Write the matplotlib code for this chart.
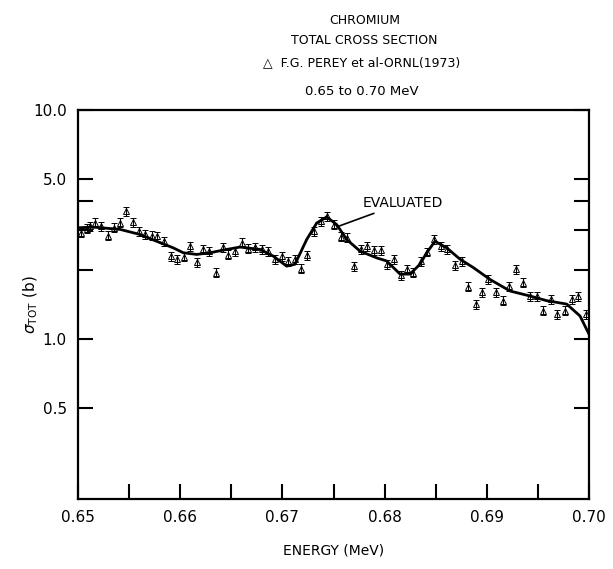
import matplotlib.pyplot as plt
import numpy as np
from matplotlib.ticker import NullLocator, FixedLocator

# measured points (Perey et al, ORNL 1973)
energy_pts = [0.65026, 0.65085, 0.65117, 0.65166, 0.65225, 0.65291, 0.65352, 0.65411,
              0.65470, 0.65541, 0.65600, 0.65659, 0.65721, 0.65776, 0.65841, 0.65910,
              0.65972, 0.66037, 0.66096, 0.66161, 0.66226, 0.66285, 0.66350, 0.66416,
              0.66471, 0.66536, 0.66602, 0.66666, 0.66732, 0.66797, 0.66862, 0.66928,
              0.66993, 0.67058, 0.67123, 0.67179, 0.67244, 0.67309, 0.67375, 0.67433,
              0.67508, 0.67570, 0.67635, 0.67701, 0.67766, 0.67831, 0.67896, 0.67962,
              0.68026, 0.68092, 0.68158, 0.68222, 0.68281, 0.68353, 0.68418, 0.68483,
              0.68549, 0.68614, 0.68689, 0.68754, 0.68819, 0.68891, 0.68950, 0.69015,
              0.69087, 0.69156, 0.69220, 0.69286, 0.69357, 0.69423, 0.69488, 0.69553,
              0.69625, 0.69690, 0.69765, 0.69831, 0.69895, 0.69968]
sigma_pts = [2.91, 3.03, 3.11, 3.22, 3.11, 2.83, 3.06, 3.22,
             3.61, 3.24, 2.96, 2.86, 2.83, 2.81, 2.68, 2.30,
             2.23, 2.29, 2.54, 2.17, 2.46, 2.42, 1.95, 2.52,
             2.33, 2.42, 2.63, 2.48, 2.51, 2.46, 2.42, 2.23,
             2.30, 2.19, 2.23, 2.03, 2.32, 2.96, 3.27, 3.44,
             3.16, 2.80, 2.77, 2.08, 2.46, 2.54, 2.44, 2.44,
             2.12, 2.23, 1.90, 2.02, 1.95, 2.19, 2.40, 2.72,
             2.54, 2.46, 2.10, 2.19, 1.69, 1.42, 1.60, 1.82,
             1.60, 1.47, 1.70, 2.02, 1.76, 1.54, 1.54, 1.33,
             1.49, 1.28, 1.33, 1.49, 1.54, 1.28]
rel_err = 0.045

# evaluated curve
energy_eval = [0.65, 0.65150, 0.65411, 0.65607, 0.65770, 0.65932, 0.66030, 0.66161,
               0.66292, 0.66455, 0.66585, 0.66781, 0.66911, 0.67042, 0.67123, 0.67238,
               0.67336, 0.67433, 0.67531, 0.67629, 0.67759, 0.67923, 0.68021, 0.68151,
               0.68249, 0.68346, 0.68412, 0.68493, 0.68608, 0.68738, 0.68868, 0.69031,
               0.69227, 0.69423, 0.69586, 0.69782, 0.69912, 0.70]
sigma_eval = [3.06, 3.08, 3.01, 2.86, 2.67, 2.50, 2.38, 2.34,
              2.38, 2.46, 2.52, 2.46, 2.30, 2.08, 2.12, 2.72,
              3.21, 3.41, 3.16, 2.72, 2.42, 2.26, 2.19, 1.92,
              1.92, 2.12, 2.38, 2.67, 2.50, 2.23, 2.05, 1.82,
              1.62, 1.54, 1.47, 1.42, 1.26, 1.05]

yticks = [0.5, 1.0, 2.0, 3.0, 4.0, 5.0, 10.0]
ytick_labels = ['0.5', '1.0', '', '', '', '5.0', '10.0']
xticks = [0.65, 0.655, 0.66, 0.665, 0.67, 0.675, 0.68, 0.685, 0.69, 0.695, 0.70]
xtick_labels = ['0.65', '', '0.66', '', '0.67', '', '0.68', '', '0.69', '', '0.70']

fig = plt.figure(figsize=(6.13, 5.69), dpi=100)
ax = fig.add_axes([78 / 613, 1 - 499 / 569, 511 / 613, 389 / 569])

ax.plot(energy_eval, sigma_eval, color='black', lw=2, zorder=3)
ax.errorbar(energy_pts, sigma_pts, yerr=np.array(sigma_pts) * rel_err, fmt='^',
            mfc='none', mec='black', ms=4, mew=0.7, ecolor='black',
            elinewidth=0.8, capsize=2, capthick=0.8, zorder=2)

ax.set_yscale('log')
ax.set_xlim(0.65, 0.70)
ax.set_ylim(0.2, 10)
ax.yaxis.set_major_locator(FixedLocator(yticks))
ax.yaxis.set_minor_locator(NullLocator())
ax.set_yticklabels(ytick_labels)
ax.set_xticks(xticks)
ax.set_xticklabels(xtick_labels)
ax.tick_params(direction='in', length=11, width=1.5, labelsize=11, pad=8,
               right=True, top=False)
for s in ax.spines.values():
    s.set_linewidth(1.6)

ax.set_xlabel('ENERGY (MeV)', fontsize=10)
ax.xaxis.set_label_coords(0.5, -0.115)
ax.set_ylabel(r'$\sigma_{\rm TOT}$ (b)', fontsize=11)
ax.yaxis.set_label_coords(-0.075, 0.5)

ax.annotate('EVALUATED', xy=(0.67544, 3.10), xytext=(0.67789, 3.94),
            fontsize=10, ha='left', va='center',
            arrowprops=dict(arrowstyle='-', color='black', lw=1.2, shrinkA=2, shrinkB=0))

fig.text(0.595, 1 - 20 / 569, 'CHROMIUM', ha='center', va='center', fontsize=9)
fig.text(0.595, 1 - 40 / 569, 'TOTAL CROSS SECTION', ha='center', va='center', fontsize=9)
fig.text(0.59, 1 - 63 / 569, '\u25b3  F.G. PEREY et al-ORNL(1973)', ha='center', va='center', fontsize=9)
fig.text(0.59, 1 - 92 / 569, '0.65 to 0.70 MeV', ha='center', va='center', fontsize=9.5)

fig.savefig('out.png', dpi=100)
